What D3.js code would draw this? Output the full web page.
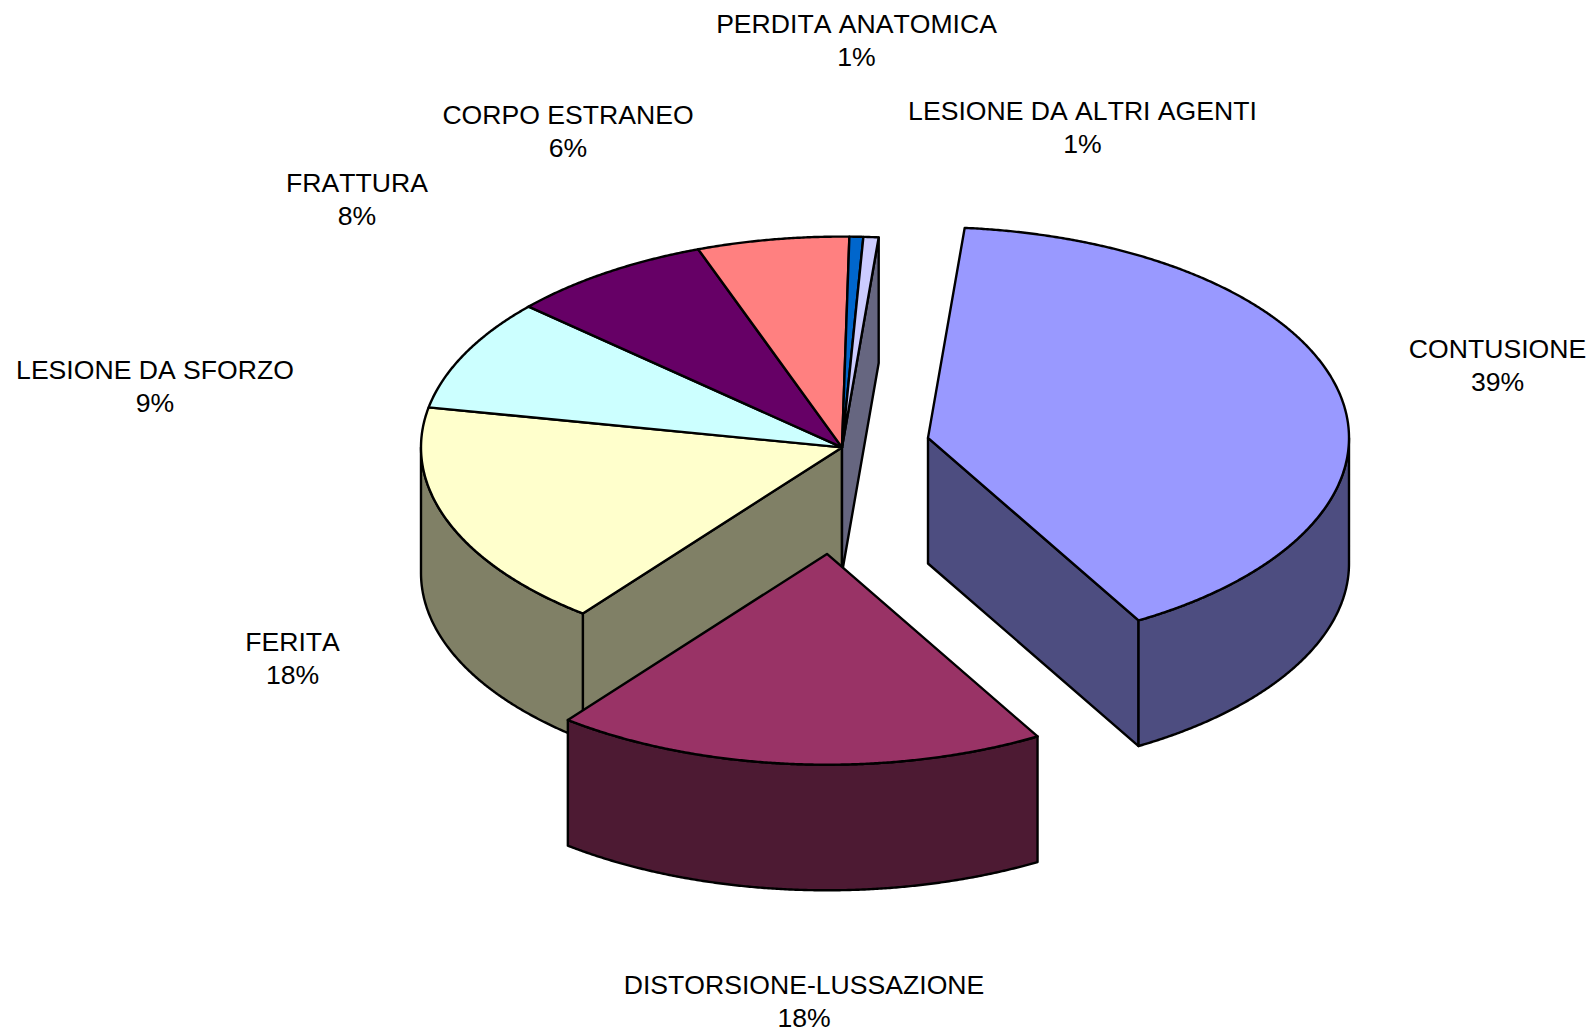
<!DOCTYPE html>
<html><head><meta charset="utf-8">
<script src="https://cdn.jsdelivr.net/npm/d3@7/dist/d3.min.js"></script>
<style>html,body{margin:0;padding:0;background:#fff}svg{display:block}text{font-family:"Liberation Sans",Arial,sans-serif;font-size:26.6px;font-kerning:none;fill:#000;text-anchor:middle}</style>
</head><body><svg id="c" width="1596" height="1035"></svg>
<script>
// Data
const categories = ["CONTUSIONE","DISTORSIONE-LUSSAZIONE","FERITA","LESIONE DA SFORZO","FRATTURA","CORPO ESTRANEO","PERDITA ANATOMICA","LESIONE DA ALTRI AGENTI"];
const sliceShares = [40.3,18.9,17.5,8.6,7.82,5.83,0.53,0.58];   // shares as seen in the drawn slices
const percentLabels = ["39%","18%","18%","9%","8%","6%","1%","1%"];
const topColors = ["#9999FF","#993366","#FFFFCC","#CCFFFF","#660066","#FF8080","#0066CC","#CCCCFF"];
const sideColors = ["#4D4D80","#4D1A33","#808066","#668080","#330033","#804040","#003366","#666680"];
const explodeDX = [86,-15,0,0,0,0,0,0];
const explodeDY = [-9.5,106.5,0,0,0,0,0,0];
const labelX = [1497.5,804,292.5,155,357,568,856.5,1082.5];
const labelY = [357.5,993.5,650.5,379,191.5,123.5,32.6,120];

// Geometry
const cx = 842, cy = 447.4, rx = 421, ry = 210.8, depth = 125.6, lineGap = 33;
const svg = d3.select("#c");
const sx = d3.scaleLinear().domain([-1,1]).range([-rx,rx]);
const sy = d3.scaleLinear().domain([-1,1]).range([-ry,ry]);
const line = d3.line();
const startDeg = 5;
const arcs = d3.pie().sort(null).startAngle(startDeg*Math.PI/180).endAngle((startDeg+360)*Math.PI/180)(sliceShares);
const slices = arcs.map((a,i)=>({i,a0:a.startAngle,a1:a.endAngle,ox:cx+explodeDX[i],oy:cy+explodeDY[i]}));
const pt = (s,t,dz=0)=>[s.ox+sx(Math.sin(t)), s.oy+sy(-Math.cos(t))+dz];
function arcPts(s,t0,t1,dz=0){
  const n = Math.max(2,Math.ceil(Math.abs(t1-t0)/0.005));
  return d3.range(n+1).map(k=>pt(s,t0+(t1-t0)*k/n,dz));
}
const exploded = i => explodeDX[i]!==0 || explodeDY[i]!==0;
const apart = (i,j) => explodeDX[i]!==explodeDX[j] || explodeDY[i]!==explodeDY[j];
const n = slices.length;
function face(s,t){
  const o=[s.ox,s.oy], e=pt(s,t);
  return line([o,e,[e[0],e[1]+depth],[o[0],o[1]+depth]])+"Z";
}
function drawSide(g,s){
  const col=sideColors[s.i];
  const P=g.append("g").attr("fill",col).attr("stroke","#000").attr("stroke-width",2.4).attr("stroke-linejoin","round");
  // start cut face
  if(Math.sin(s.a0)<0 && apart(s.i,(s.i+n-1)%n)) P.append("path").attr("d",face(s,s.a0));
  // end cut face
  if(Math.sin(s.a1)>0 && apart(s.i,(s.i+1)%n)) P.append("path").attr("d",face(s,s.a1));
  // outer wall: only the front half of the rim is seen
  for(const k of [0,1]){
    const lo=Math.max(s.a0,Math.PI/2+k*2*Math.PI), hi=Math.min(s.a1,3*Math.PI/2+k*2*Math.PI);
    if(hi>lo){
      const top=arcPts(s,lo,hi), bot=arcPts(s,hi,lo,depth);
      P.append("path").attr("d",line(top.concat(bot))+"Z");
    }
  }
}
function drawTop(g,s){
  g.append("path").attr("fill",topColors[s.i]).attr("stroke","#000").attr("stroke-width",2.4).attr("stroke-linejoin","round")
   .attr("d",line([[s.ox,s.oy]].concat(arcPts(s,s.a0,s.a1)))+"Z");
}
const main=svg.append("g");
const joined=slices.filter(s=>!exploded(s.i));
joined.forEach(s=>drawSide(main,s));
joined.forEach(s=>drawTop(main,s));
slices.filter(s=>exploded(s.i)).forEach(s=>{
  const g=svg.append("g");
  drawSide(g,s); drawTop(g,s);
});
// Labels
const L=svg.append("g");
categories.forEach((c,i)=>{
  L.append("text").attr("x",labelX[i]).attr("y",labelY[i]).text(c);
  L.append("text").attr("x",labelX[i]).attr("y",labelY[i]+lineGap).text(percentLabels[i]);
});
</script></body></html>
